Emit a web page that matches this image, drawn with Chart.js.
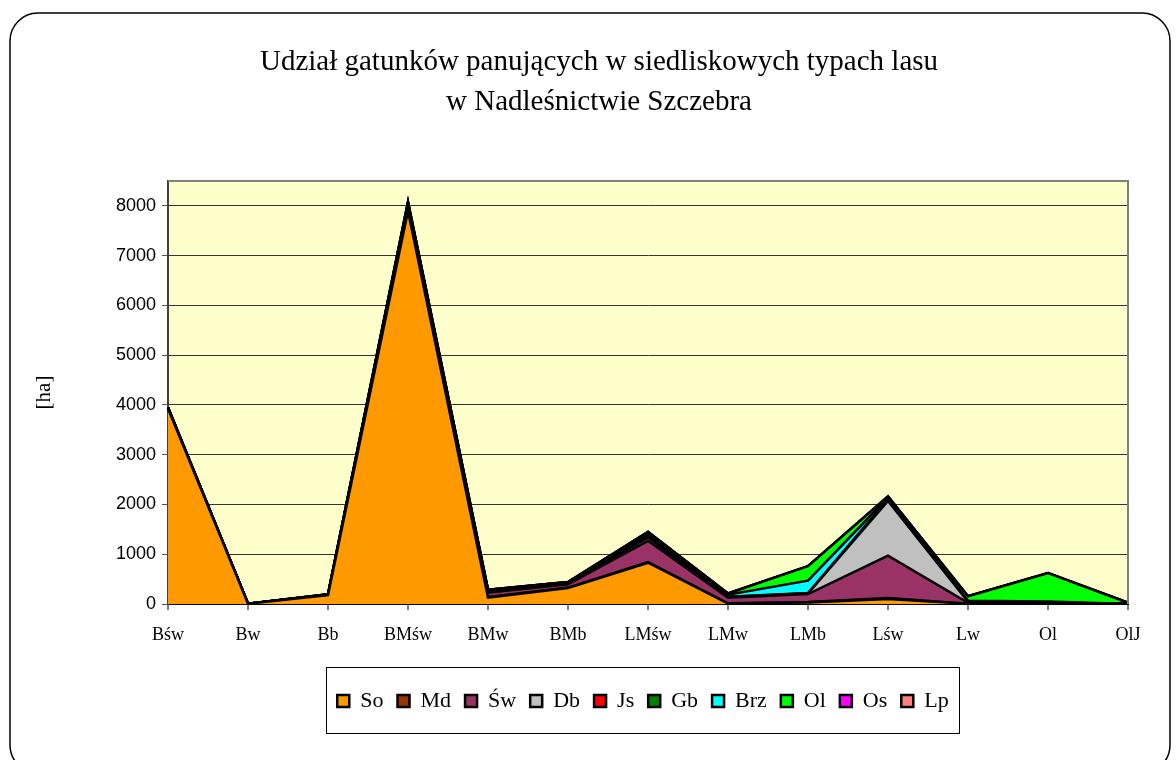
<!DOCTYPE html>
<html>
<head>
<meta charset="utf-8">
<script src="https://cdn.jsdelivr.net/npm/chart.js@4"></script>
<style>
html,body{margin:0;padding:0;background:#fff;}
#wrap{width:1176px;height:760px;position:relative;}
</style>
</head>
<body>
<div id="wrap"><canvas id="c" width="1176" height="760"></canvas></div>
<script>
const categories = ['Bśw','Bw','Bb','BMśw','BMw','BMb','LMśw','LMw','LMb','Lśw','Lw','Ol','OlJ'];
const seriesNames = ['So','Md','Św','Db','Js','Gb','Brz','Ol','Os','Lp'];
const So  = [3930, 5, 180, 7900, 130, 320, 830, 10, 30, 100, 5, 10, 0];
const Md  = [0, 0, 0, 20, 10, 10, 10, 5, 10, 20, 0, 0, 0];
const Sw  = [10, 0, 5, 60, 90, 65, 430, 110, 160, 850, 20, 10, 0];
const Db  = [0, 0, 0, 30, 20, 20, 65, 10, 10, 1100, 20, 10, 0];
const Js  = [0, 0, 0, 0, 5, 5, 20, 5, 5, 20, 5, 0, 0];
const Gb  = [0, 0, 0, 0, 5, 5, 20, 5, 5, 20, 5, 0, 0];
const Brz = [10, 0, 5, 40, 15, 10, 40, 40, 250, 30, 10, 20, 0];
const Ol  = [0, 0, 5, 30, 10, 5, 30, 25, 290, 20, 90, 570, 25];
const Os  = [0, 0, 0, 0, 0, 0, 0, 0, 0, 0, 0, 0, 0];
const Lp  = [0, 0, 0, 0, 0, 0, 5, 0, 0, 5, 0, 0, 0];
const yTicks = [0,1000,2000,3000,4000,5000,6000,7000,8000];

const seriesValues = [So, Md, Sw, Db, Js, Gb, Brz, Ol, Os, Lp];
const colors = ['#FF9900','#993300','#993366','#C0C0C0','#FF0000','#008000','#00FFFF','#00FF00','#FF00FF','#FF8080'];

const datasets = seriesNames.map((n,i)=>({
  label: n,
  data: seriesValues[i],
  backgroundColor: colors[i],
  borderColor: '#000',
  borderWidth: 2.5,
  fill: i === 0 ? 'origin' : '-1',
  pointRadius: 0,
  pointHoverRadius: 0,
  tension: 0
}));

const framePlugin = {
  id: 'framePlugin',
  afterLayout(chart){
    const t = chart.titleBlock;
    if (t){ t.left = 28; t.right = 1170; t.width = t.right - t.left; }
    const lg = chart.legend;
    if (lg){ lg.left = 168; lg.right = 1118; lg.width = lg.right - lg.left; }
  },
  beforeDraw(chart){
    const ctx = chart.ctx;
    ctx.save();
    ctx.fillStyle = '#fff';
    ctx.fillRect(0,0,chart.width,chart.height);
    ctx.strokeStyle = '#000';
    ctx.lineWidth = 1.5;
    ctx.beginPath();
    ctx.roundRect(10, 13, 1160, 760, 28);
    ctx.stroke();
    const a = chart.chartArea;
    ctx.fillStyle = '#FFFFCC';
    ctx.fillRect(a.left, a.top, a.right-a.left, a.bottom-a.top);
    ctx.restore();
  },
  afterDraw(chart){
    const ctx = chart.ctx;
    const a = chart.chartArea;
    ctx.save();
    ctx.strokeStyle = '#808080';
    ctx.lineWidth = 2;
    ctx.beginPath();
    ctx.moveTo(a.left, a.top); ctx.lineTo(a.right, a.top); ctx.lineTo(a.right, a.bottom);
    ctx.stroke();
    const lg = chart.legend;
    if (lg && lg.lineWidths && lg.lineWidths.length){
      const w = lg.lineWidths[0] + 8;
      const cx = (lg.left + lg.right) / 2;
      ctx.strokeStyle = '#000';
      ctx.lineWidth = 1;
      ctx.strokeRect(Math.round(cx - w/2)+0.5, 667.5, Math.round(w), 66);
    }
    ctx.restore();
  }
};

new Chart(document.getElementById('c'), {
  type: 'line',
  data: { labels: categories, datasets },
  plugins: [framePlugin],
  options: {
    responsive: false,
    animation: false,
    events: [],
    layout: { padding: { left: 10, right: 48, top: 42, bottom: 38 } },
    plugins: {
      title: {
        display: true,
        text: ['Udział gatunków panujących w siedliskowych typach lasu','w Nadleśnictwie Szczebra'],
        font: { family: 'Liberation Serif', size: 29, weight: 'normal', lineHeight: 1.38 },
        color: '#000',
        padding: { top: 0, bottom: 59 }
      },
      legend: {
        position: 'bottom',
        labels: {
          boxWidth: 12, boxHeight: 12,
          font: { family: 'Liberation Serif', size: 22 },
          color: '#000',
          padding: 14
        }
      },
      tooltip: { enabled: false }
    },
    scales: {
      x: {
        offset: false,
        grid: { display: true, drawOnChartArea: false, tickLength: 6, tickColor: '#808080', lineWidth: 2 },
        border: { color: '#000', width: 2 },
        ticks: { font: { family: 'Liberation Serif', size: 18 }, color: '#000', padding: 14, maxRotation: 0, autoSkip: false },
        afterFit(s){ s.height = 72; }
      },
      y: {
        stacked: true,
        min: 0, max: 8500,
        afterBuildTicks(s){ s.ticks = yTicks.map(v=>({value:v})); },
        grid: { color: '#333', lineWidth: 1, tickLength: 6, tickColor: '#555' },
        border: { color: '#404040', width: 2 },
        ticks: { font: { family: 'Liberation Sans', size: 18 }, color: '#000', padding: 6, callback: v => String(v) },
        title: { display: true, text: '[ha]', font: { family: 'Liberation Serif', size: 21 }, color: '#000', padding: { top: 22, bottom: 0 } },
        afterFit(s){ s.width = 158; }
      }
    }
  }
});
</script>
</body>
</html>
